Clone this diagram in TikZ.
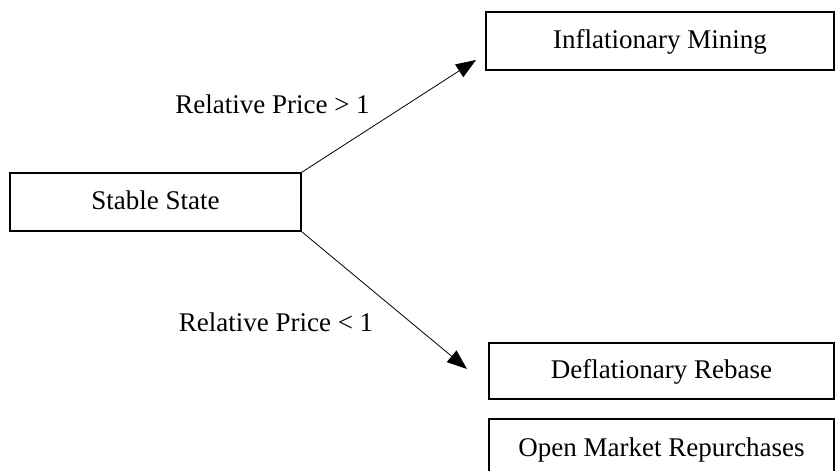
\documentclass[tikz,border=0pt]{standalone}
\usepackage{fontspec}
\setmainfont{Liberation Serif}
\usetikzlibrary{arrows.meta}
\begin{document}
\begin{tikzpicture}[x=1pt,y=-1pt,
  box/.style={draw=black,line width=1.4pt,rectangle,inner sep=0pt,
    text height=20pt,text depth=5pt,
    font=\fontsize{27}{32}\selectfont},
  lbl/.style={font=\fontsize{27}{32}\selectfont,inner sep=0pt,anchor=base},
  conn/.style={draw=black,line width=0.8pt,-{Triangle[length=20pt,width=15pt]}}]
\useasboundingbox (0,0) rectangle (835,471);
\node[box,minimum width=291pt,minimum height=58pt] (s) at (155.5,202) {Stable State};
\node[box,minimum width=348pt,minimum height=58pt] (inf) at (660,41) {Inflationary Mining};
\node[box,minimum width=345pt,minimum height=56pt] (def) at (661.5,371) {Deflationary Rebase};
\node[box,minimum width=345pt,minimum height=59pt] (omr) at (661.5,448.5) {Open Market Repurchases};
\coordinate (t1) at (476,60);
\coordinate (t2) at (467,369);
\draw[conn] (s.north east) -- (t1);
\draw[conn] (s.south east) -- (t2);
\node[lbl] (l1) at (272.5,113) {Relative Price > 1};
\node[lbl] (l2) at (276,331) {Relative Price < 1};
\end{tikzpicture}
\end{document}
